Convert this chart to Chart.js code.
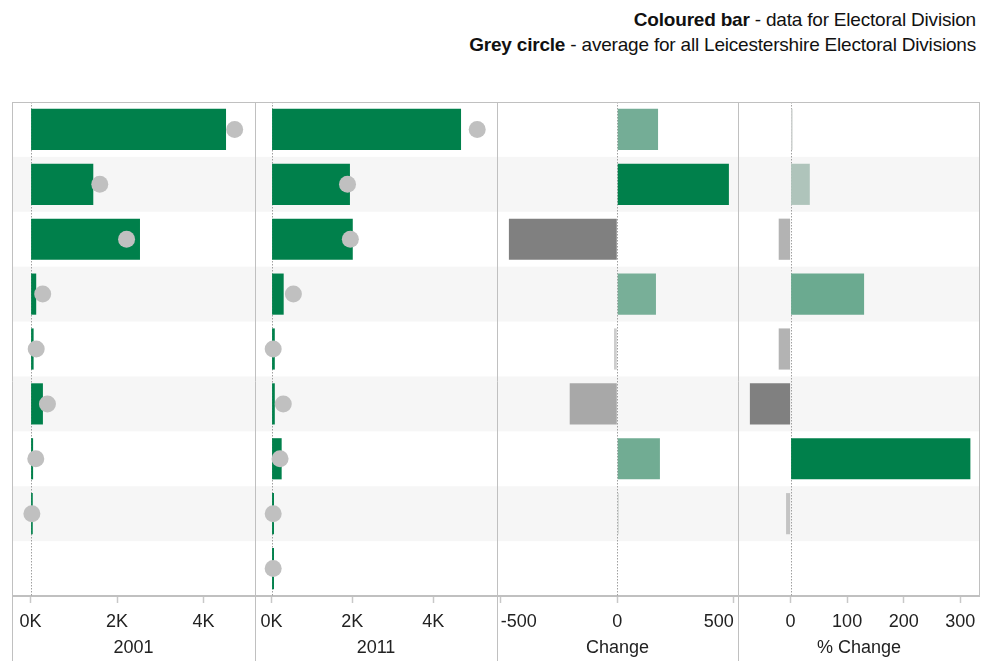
<!DOCTYPE html>
<html>
<head>
<meta charset="utf-8">
<script src="https://cdn.jsdelivr.net/npm/chart.js@4.4.1/dist/chart.umd.min.js"></script>
<style>
  body { margin: 0; background: #fff; width: 981px; height: 661px; overflow: hidden; position: relative;
         font-family: "Liberation Sans", Arial, sans-serif; }
  .note { position: absolute; right: 5px; text-align: right; font-size: 19px; line-height: 22px; color: #111;
          white-space: nowrap; letter-spacing: -0.2px; }
  .panel { position: absolute; top: 102px; height: 559px; }
</style>
</head>
<body>
<div class="note" style="top:9px"><b>Coloured bar</b> - data for Electoral Division</div>
<div class="note" style="top:34px"><b>Grey circle</b> - average for all Leicestershire Electoral Divisions</div>
<div class="panel" style="left:12px;width:243px"><canvas id="c2001"></canvas></div>
<div class="panel" style="left:255px;width:242px"><canvas id="c2011"></canvas></div>
<div class="panel" style="left:497px;width:241px"><canvas id="cChange"></canvas></div>
<div class="panel" style="left:738px;width:242px"><canvas id="cPct"></canvas></div>
<script>
// rows of the table (labels are hidden in the original)
const rows = ["Row 1", "Row 2", "Row 3", "Row 4", "Row 5", "Row 6", "Row 7", "Row 8", "Row 9"];

// 2001 counts: division and county average
const values2001 = [4520, 1450, 2530, 130, 70, 285, 58, 50, null];
const average2001 = [4720, 1600, 2220, 280, 130, 390, 120, 30, null];

// 2011 counts: division and county average
const values2011 = [4690, 1940, 2010, 300, 80, 80, 250, 60, 60];
const average2011 = [5090, 1880, 1950, 540, 40, 290, 210, 40, 40];

// change 2001 -> 2011
const changeValues = [175, 479, -465, 166, -14, -204, 183, 6, null];
const pctChange = [3.5, 34, -21, 130, -21, -72, 318, -8, null];

// axis ticks for each pane
const countTicks = [0, 2000, 4000];
const changeTicks = [-500, 0, 500];
const pctTicks = [0, 100, 200, 300];

const GREEN = "#00804b";
const FONT = "'Liberation Sans', Arial, sans-serif";

// diverging colour: light grey at zero, green for growth, dark grey for decline
const divergingColour = (values) => {
  const nums = values.filter((v) => v !== null);
  const hi = Math.max(...nums);
  const lo = Math.min(...nums);
  return (ctx) => {
    const v = ctx.raw;
    if (v === null || v === undefined) return "rgba(0,0,0,0)";
    const base = 210;
    let r, g, b;
    if (v >= 0) {
      const t = Math.pow(v / hi, 0.8);
      r = base + (0 - base) * t;
      g = base + (128 - base) * t;
      b = base + (75 - base) * t;
    } else {
      const t = Math.pow(v / lo, 0.8);
      r = g = b = base + (128 - base) * t;
    }
    return `rgb(${Math.round(r)},${Math.round(g)},${Math.round(b)})`;
  };
};

// row bands, zero line and pane borders
const framePlugin = {
  id: "frame",
  beforeDraw(chart) {
    const { ctx, chartArea, scales } = chart;
    const step = (chartArea.bottom - chartArea.top) / rows.length;
    ctx.save();
    ctx.fillStyle = "#f6f6f6";
    rows.forEach((r, i) => {
      if (i % 2 === 1) {
        const yc = scales.y.getPixelForValue(i);
        ctx.fillRect(0, yc - step / 2, chart.width, step);
      }
    });
    ctx.restore();
  },
  beforeDatasetsDraw(chart) {
    const { ctx, chartArea, scales } = chart;
    const x0 = Math.round(scales.x.getPixelForValue(0)) + 0.5;
    ctx.save();
    ctx.strokeStyle = "#a0a0a0";
    ctx.lineWidth = 1;
    ctx.setLineDash([1.5, 1.5]);
    ctx.beginPath();
    ctx.moveTo(x0, chartArea.top);
    ctx.lineTo(x0, chartArea.bottom);
    ctx.stroke();
    ctx.restore();
  },
  afterDraw(chart, args, opts) {
    const { ctx, chartArea } = chart;
    ctx.save();
    ctx.strokeStyle = "#c0c0c0";
    ctx.lineWidth = 1;
    ctx.beginPath();
    ctx.moveTo(0.5, 0);
    ctx.lineTo(0.5, chart.height);
    ctx.moveTo(0, 0.5);
    ctx.lineTo(chart.width, 0.5);
    if (opts.last) {
      ctx.moveTo(chart.width - 0.5, 0);
      ctx.lineTo(chart.width - 0.5, chartArea.bottom);
    }
    ctx.stroke();
    ctx.restore();
  },
};

const makePanel = (id, cfg) => {
  const datasets = [];
  if (cfg.average) {
    datasets.push({
      type: "line",
      data: cfg.average,
      showLine: false,
      pointRadius: 8.5,
      pointBackgroundColor: "#c0c0c0",
      pointBorderWidth: 0,
      order: 0,
    });
  }
  datasets.push({
    type: "bar",
    data: cfg.values,
    backgroundColor: cfg.colour,
    barPercentage: 0.75,
    categoryPercentage: 1,
    order: 1,
  });

  new Chart(document.getElementById(id), {
    type: "bar",
    data: { labels: rows, datasets: datasets },
    plugins: [framePlugin],
    options: {
      indexAxis: "y",
      responsive: true,
      maintainAspectRatio: false,
      animation: false,
      layout: { padding: 0, autoPadding: false },
      plugins: {
        legend: { display: false },
        tooltip: { enabled: false },
        frame: { last: !!cfg.last },
      },
      scales: {
        y: { display: false, offset: true },
        x: {
          min: cfg.min,
          max: cfg.max,
          afterBuildTicks: (scale) => {
            scale.ticks = cfg.ticks.map((v) => ({ value: v }));
          },
          afterFit: (scale) => {
            scale.height = 65;
            scale.paddingLeft = 0;
            scale.paddingRight = 0;
          },
          border: { display: true, color: "#c0c0c0", width: 2 },
          grid: { drawOnChartArea: false, drawTicks: true, tickLength: 7, tickColor: "#c8c8c8", tickWidth: 1.5 },
          ticks: {
            autoSkip: false,
            align: cfg.align || "center",
            maxRotation: 0,
            padding: 8,
            color: "#222",
            font: { family: FONT, size: 18 },
            callback: cfg.format,
          },
          title: {
            display: true,
            text: cfg.title,
            color: "#222",
            font: { family: FONT, size: 18 },
            padding: { top: 0, bottom: 2 },
          },
        },
      },
    },
  });
};

const kFormat = (v) => v / 1000 + "K";

makePanel("c2001", { values: values2001, average: average2001, colour: GREEN, ticks: countTicks,
  min: -430, max: 5190, format: kFormat, title: "2001" });
makePanel("c2011", { values: values2011, average: average2011, colour: GREEN, ticks: countTicks,
  min: -410, max: 5580, format: kFormat, title: "2011" });
makePanel("cChange", { values: changeValues, colour: divergingColour(changeValues), ticks: changeTicks,
  min: -516, max: 518, align: "inner", format: (v) => v, title: "Change" });
makePanel("cPct", { values: pctChange, colour: divergingColour(pctChange), ticks: pctTicks,
  min: -93, max: 335, format: (v) => v, title: "% Change", last: true });
</script>
</body>
</html>
